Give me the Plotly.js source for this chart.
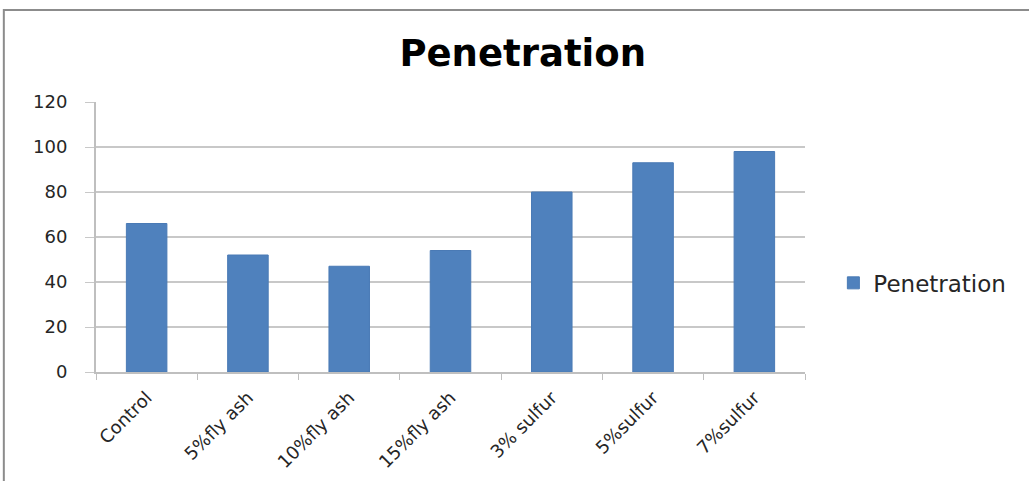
<!DOCTYPE html>
<html>
<head>
<meta charset="utf-8">
<script src="https://cdn.plot.ly/plotly-3.0.1.min.js"></script>
<style>
  html, body { margin: 0; padding: 0; background: #fff; }
  #chart { width: 1029px; height: 481px; }
</style>
</head>
<body>
<div id="chart"></div>
<script>
// Penetration for each mix
const categories = ['Control', '5%fly ash', '10%fly ash', '15%fly ash', '3% sulfur', '5%sulfur', '7%sulfur'];
const penetration = [66, 52, 47, 54, 80, 93, 98];
const yTicks = [0, 20, 40, 60, 80, 100, 120];

const font = '"DejaVu Sans", "Open Sans", sans-serif';

const trace = {
  type: 'bar',
  name: 'Penetration',
  x: categories,
  y: penetration,
  marker: { color: '#4f81bd', line: { color: '#4a7ab5', width: 1 } },
  showlegend: true
};

const layout = {
  width: 1029,
  height: 481,
  paper_bgcolor: '#ffffff',
  plot_bgcolor: '#ffffff',
  margin: { l: 96, r: 224, t: 102, b: 109 },
  bargap: 0.6,
  title: {
    text: '<b>Penetration</b>',
    font: { family: font, size: 37, color: '#000000' },
    x: 0.508, xanchor: 'center',
    y: 0.89, yanchor: 'middle'
  },
  xaxis: {
    type: 'category',
    showgrid: false,
    showline: true,
    linecolor: '#bfbfbf',
    linewidth: 2,
    ticks: 'outside',
    tickson: 'boundaries',
    ticklen: 6,
    tickcolor: '#bfbfbf',
    tickangle: -45,
    ticklabelstandoff: 6,
    tickfont: { family: font, size: 18, color: '#262626' },
    fixedrange: true
  },
  yaxis: {
    range: [0, 120],
    tickvals: yTicks,
    ticktext: yTicks.map(String),
    showgrid: true,
    gridcolor: '#c8c8c8',
    gridwidth: 2,
    zeroline: false,
    showline: true,
    linecolor: '#bfbfbf',
    linewidth: 2,
    ticks: 'outside',
    ticklen: 9,
    tickcolor: '#c8c8c8',
    ticklabelstandoff: 14,
    tickfont: { family: font, size: 18, color: '#262626' },
    fixedrange: true
  },
  legend: {
    x: 1.04, xanchor: 'left',
    y: 0.33, yanchor: 'middle',
    font: { family: font, size: 23, color: '#262626' },
    bgcolor: 'rgba(0,0,0,0)',
    itemwidth: 30
  },
  shapes: [{
    type: 'rect', xref: 'paper', yref: 'paper',
    x0: -0.13, x1: 1.5, y0: -1, y1: 1.341,
    line: { color: '#8c8c8c', width: 2 }
  }]
};

Plotly.newPlot('chart', [trace], layout, { displayModeBar: false, staticPlot: true });
</script>
</body>
</html>
